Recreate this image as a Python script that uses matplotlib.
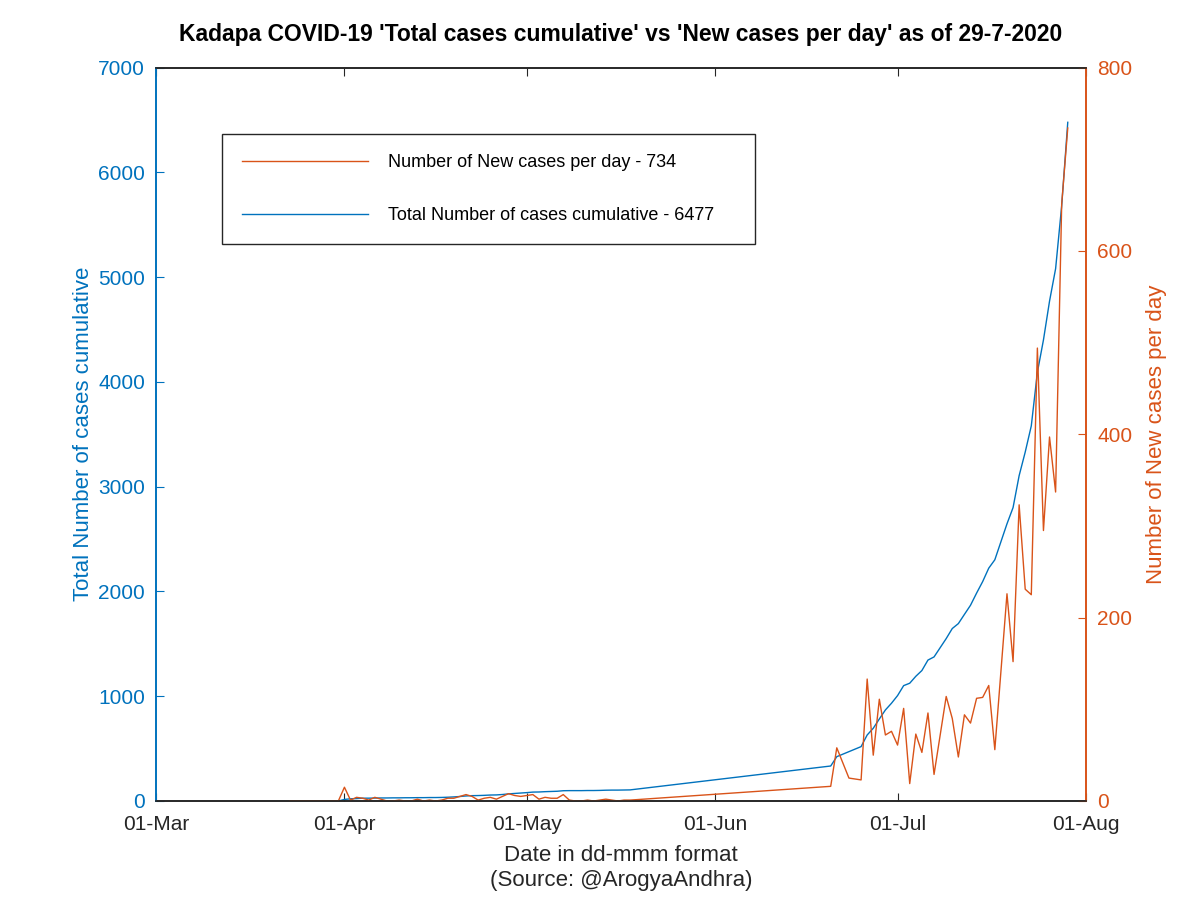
import numpy as np
import pandas as pd
import matplotlib
matplotlib.use("Agg")
import matplotlib.pyplot as plt
import matplotlib.dates as mdates

# dates with data (gaps are simply joined by straight lines)
dates = (list(pd.date_range("2020-03-23", "2020-05-18", freq="D"))
         + list(pd.to_datetime(["2020-06-20", "2020-06-21", "2020-06-23", "2020-06-25",
                                "2020-06-26", "2020-06-27", "2020-06-28", "2020-06-29",
                                "2020-06-30", "2020-07-01", "2020-07-02", "2020-07-03",
                                "2020-07-04", "2020-07-05", "2020-07-06", "2020-07-07",
                                "2020-07-09", "2020-07-10", "2020-07-11", "2020-07-12",
                                "2020-07-13", "2020-07-14", "2020-07-15", "2020-07-16",
                                "2020-07-17", "2020-07-19", "2020-07-20", "2020-07-21",
                                "2020-07-22", "2020-07-23", "2020-07-24", "2020-07-25",
                                "2020-07-26", "2020-07-27", "2020-07-28", "2020-07-29"])))

# new cases per day
new_cases = [0, 0, 0, 0, 0, 0, 0, 0, 0,
             15, 1, 4, 3, 1, 4, 2, 0, 0, 1, 0, 0, 2, 0, 1, 0, 1, 3, 3, 5,
             7, 5, 1, 3, 4, 2, 5, 8, 6, 5, 6, 7, 2, 4, 3, 3, 7, 1, 0, 0,
             1, 0, 1, 2, 1, 0, 1, 1,
             16, 58, 25, 23, 133, 50, 111, 72, 76, 61, 101, 19, 73, 53, 96, 29,
             114, 90, 48, 94, 85, 112, 113, 126, 56, 226, 152, 323, 231, 225,
             494, 295, 397, 337, 651, 734]

# total cases cumulative
total_cases = [0, 0, 0, 0, 0, 0, 0, 0, 0,
               15, 21, 23, 27, 27, 28, 29, 29, 30, 30, 31, 31, 32, 32, 33, 33, 34, 36, 39, 43,
               48, 51, 52, 54, 57, 58, 62, 68, 72, 76, 80, 85, 86, 89, 91, 93, 98, 99, 99, 99,
               100, 100, 101, 103, 104, 104, 105, 106,
               334, 423, 471, 519, 630, 694, 783, 869, 933, 1006, 1101, 1124, 1190, 1245, 1345, 1375,
               1550, 1646, 1693, 1781, 1868, 1984, 2094, 2222, 2302, 2645, 2800, 3105, 3330, 3580,
               4090, 4400, 4770, 5080, 5680, 6477]

blue = "#0072BD"
orange = "#D95319"
dark = "#262626"

plt.rcParams['font.family'] = ['Liberation Sans', 'DejaVu Sans']

fig = plt.figure(figsize=(12, 9), dpi=100)
ax = fig.add_axes([0.13, 0.11, 0.775, 0.815])
ax2 = ax.twinx()

l1, = ax.plot(dates, total_cases, color=blue, lw=1)
l2, = ax2.plot(dates, new_cases, color=orange, lw=1)

ax.set_xlim(pd.Timestamp("2020-03-01"), pd.Timestamp("2020-08-01"))
ax.set_ylim(0, 7000)
ax2.set_ylim(0, 800)
ax.set_yticks(np.arange(0, 7001, 1000))
ax2.set_yticks(np.arange(0, 801, 200))
ax.xaxis.set_major_locator(mdates.MonthLocator())
ax.xaxis.set_major_formatter(mdates.DateFormatter("%d-%b"))

ax.tick_params(axis='x', direction='in', length=6, colors=dark, labelsize=15, top=True, pad=10)
ax.tick_params(axis='y', direction='in', length=6, colors=blue, labelsize=15, pad=8)
ax2.tick_params(axis='y', direction='in', length=6, colors=orange, labelsize=15, pad=8)

for a in (ax, ax2):
    a.spines['top'].set_color(dark)
    a.spines['bottom'].set_color(dark)
    a.spines['left'].set_color(blue)
    a.spines['right'].set_color(orange)
    for s in a.spines.values():
        s.set_linewidth(1.2)

ax.set_ylabel("Total Number of cases cumulative", color=blue, fontsize=16, labelpad=3)
ax2.set_ylabel("Number of New cases per day", color=orange, fontsize=16, labelpad=10)
ax.set_xlabel("Date in dd-mmm format\n(Source: @ArogyaAndhra)", color=dark, fontsize=16,
              labelpad=8, linespacing=1.25)
ax.set_title("Kadapa COVID-19 'Total cases cumulative' vs 'New cases per day' as of 29-7-2020",
             fontsize=16.5, fontweight='bold', pad=19)

leg = ax2.legend([l2, l1],
                 ["Number of New cases per day - " + str(new_cases[-1]),
                  "Total Number of cases cumulative - " + str(total_cases[-1])],
                 loc='upper left', mode='expand',
                 bbox_to_anchor=(222 / 1200, 1 - 244 / 900, 533 / 1200, 110 / 900),
                 bbox_transform=fig.transFigure, fontsize=13, handlelength=7.0,
                 handletextpad=1.1, labelspacing=2.0, borderpad=1.1, borderaxespad=0,
                 fancybox=False, framealpha=1, edgecolor=dark)
leg.get_frame().set_linewidth(1)

fig.savefig("out.png", dpi=100)
